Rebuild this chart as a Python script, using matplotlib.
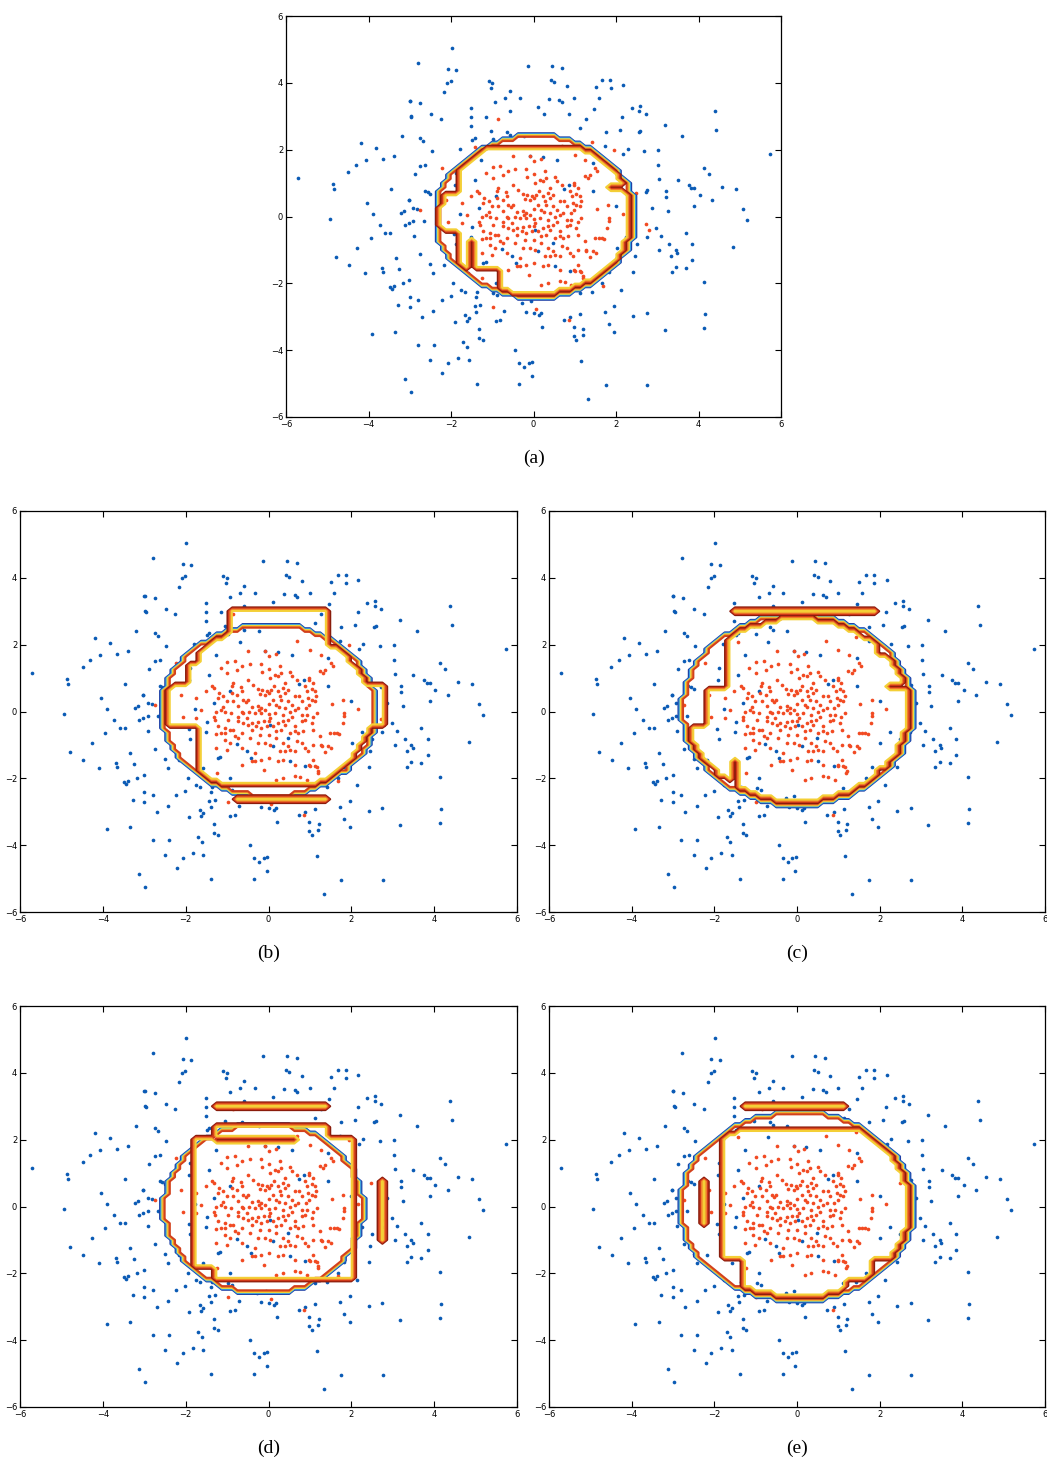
import numpy as np
import matplotlib
matplotlib.use("Agg")
import matplotlib.pyplot as plt

# ---------------- sample points (shared by all panels) ----------------
blue_x = [-5.72, -4.86, -4.83, -4.49, -4.31, -4.19, -4.07, -3.83, -3.66, -3.39, -3.19, -3.0, -2.98, -3.46, -4.04,
          -3.89, -3.22, -3.14, -3.03, -4.94,
          -1.98, -2.79, -2.07, -1.87, -2.09, -2.01, -2.16, -1.09, -1.0, -1.03, -0.58, -0.68, -0.33, -0.93, -2.99,
          -2.75, -2.96, -2.48, -2.25, -1.52, -1.52, -1.14, -0.58, -1.52, -1.04, -0.65, -0.58, -2.74, -2.67, -1.48,
          -1.43, -0.98, -0.70, -0.23, -2.47, -1.79, -2.74, -2.62, -2.88, -1.89, -1.27, -1.43, -1.91, -2.63, -2.56,
          -2.50, -3.02, -2.92, -2.82, -0.92, -1.31, -1.77, -0.08, -0.13,
          0.44, 0.68, 0.42, 0.50, 0.81, 1.67, 1.86, 1.51, 1.87, 2.17, 0.38, 0.63, 0.70, 0.99, 1.58, 0.11, 0.25,
          0.86, 1.46, 1.27, 2.38, 2.57, 2.56, 2.72, 2.15, 1.13, 1.75, 2.09, 2.55, 2.59, 1.73, 2.28, 2.18, 2.69,
          3.03, 0.22, 0.56, 1.44, 3.03, 3.05, 1.44, 2.72, 2.76, 2.0, 2.87, 0.74, 0.86,
          4.39, 3.18, 4.42, 3.59, 5.73, 4.13, 4.26, 3.50, 3.76, 3.82, 3.90, 4.58, 4.92, 3.20, 3.20, 4.03, 4.33,
          3.90, 3.25, 5.09, 5.18,
          -3.72, -3.59, -3.47, -3.12, -3.02, -3.95, -4.27, -4.79, -4.47, -4.09, -3.68, -3.65, -3.34, -3.25, -3.48,
          -3.44, -3.39, -3.17, -3.01, -3.0, -3.28, -3.0, -3.91, -3.35, -3.12, -2.98,
          -2.92, -2.66, -2.90, -2.74, -2.50, -2.43, -2.17, -1.89, -1.93, -1.51, -1.48, -1.16, -1.22, -1.94, -1.66,
          -1.76, -1.36, -1.40, -1.58, -0.92, -0.77, -0.51, -0.43, -2.80, -2.23, -2.01, -1.29, -1.43, -2.70, -2.43,
          -1.91, -1.66, -1.57, -1.62, -1.40, -1.31, -1.31, -1.23, -0.92, -0.81, -0.72, -0.97, -0.88, -0.27, -0.19,
          0.01, -1.70, -1.61, -2.80, -2.41, -2.50, -1.83, -2.07, -1.57, -0.44, -0.35, -0.22, -0.12, -0.03, -0.04,
          -2.21, -1.38, -0.35,
          0.03, 0.11, 0.48, 0.51, 0.89, 1.82, 1.67, 2.02, 2.25, 2.50, 2.46, 2.74, 2.98, 3.05, 1.12, 1.42, -0.07,
          0.13, 0.18, 0.20, 0.73, 0.89, 1.13, 0.98, 1.21, 1.19, 0.98, 1.04, 1.73, 1.96, 2.13, 1.82, 1.96, 2.42,
          2.42, 2.75, 1.16, 1.75, 1.33, 2.76,
          3.10, 3.69, 3.29, 3.84, 3.45, 3.34, 3.49, 3.84, 3.45, 3.35, 3.69, 4.83, 4.14, 4.16, 4.13, 3.18]
blue_y = [1.15, 0.98, 0.83, 1.32, 1.55, 2.19, 1.68, 2.06, 1.73, 1.82, 2.42, 3.47, 3.0, 0.83, 0.39,
          0.08, 0.10, 0.15, 0.50, -0.08,
          5.04, 4.60, 4.42, 4.37, 4.0, 4.04, 3.73, 4.04, 4.0, 3.86, 3.75, 3.55, 3.55, 3.44, 3.46,
          3.40, 2.99, 3.08, 2.93, 3.26, 2.99, 2.99, 3.16, 2.72, 2.57, 2.54, 2.45, 2.34, 2.27, 2.30,
          2.36, 2.31, 2.09, 2.42, 1.95, 2.02, 1.50, 1.55, 1.26, 1.30, 1.70, 1.10, 0.95, 0.77, 0.72,
          0.67, 0.50, 0.25, 0.23, 0.62, 0.26, 0.06, 1.80, 4.51,
          4.51, 4.44, 4.09, 4.02, 3.91, 4.07, 4.09, 3.88, 3.84, 3.95, 3.52, 3.49, 3.44, 3.55, 3.55, 3.28, 3.08,
          3.08, 3.23, 2.93, 3.25, 3.30, 3.16, 3.07, 2.99, 2.66, 2.53, 2.60, 2.53, 2.55, 2.12, 2.03, 1.88, 1.97,
          2.0, 1.77, 1.68, 1.60, 1.55, 1.12, 0.75, 0.74, 0.78, 0.32, 0.26, 0.82, 0.95,
          3.17, 2.75, 2.60, 2.42, 1.86, 1.44, 1.28, 1.08, 0.95, 0.86, 0.86, 0.88, 0.83, 0.75, 0.59, 0.63, 0.50,
          0.32, 0.17, 0.23, -0.10,
          -0.26, -0.50, -0.50, -0.26, -0.19, -0.64, -0.95, -1.20, -1.44, -1.68, -1.55, -1.67, -1.24, -1.57, -2.10,
          -2.16, -2.07, -1.98, -1.89, -2.41, -2.66, -2.70, -3.51, -3.46, -4.87, -5.25,
          -0.12, -0.12, -0.58, -1.13, -1.42, -1.69, -1.45, -0.83, -0.52, -0.60, -0.32, -1.35, -1.40, -1.99, -2.26,
          -2.19, -2.26, -2.42, -1.70, -1.99, -0.98, -1.18, -1.38, -2.51, -2.50, -2.38, -2.64, -2.68, -3.0, -2.84,
          -3.17, -2.94, -3.04, -3.13, -2.86, -3.37, -3.64, -3.69, -3.14, -3.11, -2.84, -2.30, -2.34, -2.60, -2.87,
          -2.90, -3.77, -3.91, -3.84, -3.86, -4.29, -4.24, -4.37, -4.29, -3.99, -4.39, -4.49, -4.37, -4.34, -4.76,
          -4.69, -5.01, -5.01,
          -0.40, -1.03, -0.80, -1.48, -1.62, -1.65, -1.99, -0.95, -0.62, -0.83, -1.17, -0.62, -0.35, -0.99, -2.28,
          -2.25, -2.52, -2.94, -2.88, -3.30, -3.11, -3.01, -2.91, -3.30, -3.37, -3.54, -3.57, -3.69, -2.86, -2.68,
          -2.21, -3.21, -3.46, -1.65, -2.99, -2.90, -4.31, -5.04, -5.46, -5.04,
          -0.57, -0.50, -0.83, -0.83, -0.99, -1.17, -1.10, -1.30, -1.50, -1.66, -1.55, -0.90, -1.95, -2.92, -3.33,
          -3.39]

red_x = [-0.49, -0.08, 0.02, -0.81, -0.99, -0.63, -0.45, -0.18, -0.75, -1.15, -0.99, -0.15, 0.01, 0.04,
         -0.49, -0.85, -0.88, -0.67, -0.37, -0.26, -0.15, -0.03, -0.21, -0.08, 0.01, -1.36, -1.31, -1.52,
         -1.19, -0.65, -0.89, -0.75, -1.09, -1.22, -1.01, -0.61, -0.55, -0.50, -0.85, -0.41, -0.25, -0.17,
         -0.08, -0.23, -0.73, -1.09, -1.14, -1.06, -1.26, -0.65, -0.61, -0.46, -0.33, -0.17, 0.00, -0.91,
         -1.74, -1.62, -1.31, -1.74, -2.07, -2.12, -0.53, -0.73, 0.0, 0.04, -2.23,
         1.42, 1.95, 0.17, 1.0, 1.26, 1.50, 1.55, 1.24, 1.32, 0.27, 0.31, 0.23, 0.15, 0.51, 0.56, 0.98, 1.07,
         1.04, 1.12, 0.88, 0.68, 0.39, 0.35, 0.47, 0.39, 0.27, 0.23, 0.13, 0.07, 0.11, 0.19, 0.31, 0.47, 0.56,
         0.64, 0.74, 0.80, 0.96, 1.04, 1.12, 0.98, 0.90, 0.72, 0.64, 0.51, 0.39, 0.25, 0.15, 0.35, 0.56, 0.80,
         0.92, 1.07, 1.16, 1.53, 1.81,
         -1.30, -0.97, -0.73, -0.61, -0.41, -0.25, -0.12, 0.0, -1.22, -1.06, -0.93, -1.14, -1.06, -1.26, -0.85,
         -0.49, -0.29, -0.17, -0.04, -0.41, -0.65, -0.21, 0.0, -1.06, -0.93, -0.81, -0.73, -0.45, -0.25, -0.08,
         0.04, -1.26, -1.01, -0.65, -0.41, -0.33, -0.17, 0.0, -0.12, -0.63, -0.33,
         0.11, 0.23, 0.35, 0.39, 0.47, 0.64, 0.80, 0.88, 1.04, 0.19, 0.31, 0.51, 0.64, 0.72, 0.84, 1.08, 1.24,
         1.49, 1.65, 0.19, 0.35, 0.47, 0.68, 0.80, 0.88, 0.96, 1.08, 1.28, 1.44, 0.27, 0.39, 0.51, 0.64, 0.23,
         0.35, 0.64, 1.0, 1.12, 0.35, 0.64, 0.76, 0.19, 0.92, 1.20, 1.08,
         1.82, 1.82, 1.79, 1.58, 1.71, 1.51, 1.37, 1.27, 1.16, 1.19, 0.98, 2.16, 1.37, 0.98, 1.15, 0.94,
         -0.85, -2.74, -1.42, 0.05, 0.86, 1.69, 2.80, 2.72, -0.98, -1.24, 0.70, 2.48]
red_y = [1.80, 1.80, 1.67, 1.50, 1.48, 1.37, 1.42, 1.42, 1.23, 1.30, 1.15, 1.18, 1.27, 1.0,
         0.95, 0.85, 0.77, 0.73, 0.80, 0.67, 0.65, 0.60, 0.53, 0.50, 0.55, 0.75, 0.70, 0.60,
         0.55, 0.60, 0.55, 0.50, 0.45, 0.40, 0.30, 0.33, 0.27, 0.35, 0.30, 0.13, 0.15, 0.10,
         0.05, 0.03, 0.15, 0.13, 0.05, 0.0, 0.0, 0.0, -0.05, 0.0, -0.05, -0.05, -0.08, -0.03,
         0.40, 0.05, -0.17, -0.20, -0.17, 0.50, -0.20, -0.17, 0.23, -0.20, 1.45,
         2.23, 1.98, 1.73, 1.83, 1.70, 1.45, 1.37, 1.20, 1.15, 1.35, 1.15, 1.05, 1.10, 1.17, 1.05, 0.95, 0.85,
         0.67, 0.60, 0.75, 0.95, 0.85, 0.70, 0.65, 0.55, 0.45, 0.60, 0.75, 0.65, 0.35, 0.20, 0.35, 0.30, 0.20,
         0.45, 0.45, 0.30, 0.40, 0.35, 0.30, 0.20, 0.10, 0.10, 0.05, 0.0, 0.10, 0.13, -0.05, -0.10, -0.15, -0.10,
         -0.10, -0.15, -0.05, 0.23, 0.33,
         -0.24, -0.24, -0.29, -0.34, -0.34, -0.31, -0.27, -0.29, -0.44, -0.49, -0.54, -0.64, -0.64, -0.67, -0.54,
         -0.41, -0.44, -0.49, -0.44, -0.54, -0.64, -0.69, -0.69, -0.84, -0.94, -0.74, -0.79, -0.79, -0.94, -0.94,
         -0.99, -1.09, -1.14, -1.09, -1.49, -1.49, -1.44, -1.39, -1.74, -1.59, -1.24,
         -0.44, -0.34, -0.29, -0.39, -0.24, -0.44, -0.29, -0.24, -0.34, -0.59, -0.54, -0.64, -0.59, -0.64, -0.59,
         -0.54, -0.74, -0.64, -0.64, -0.79, -0.94, -1.04, -0.89, -0.94, -1.09, -1.19, -0.99, -1.04, -1.04, -1.19,
         -1.17, -1.14, -1.19, -1.49, -1.44, -1.59, -1.64, -1.64, -1.99, -1.94, -1.97, -2.04, -2.04, -1.79, -1.44,
         -0.05, -0.12, -0.35, -0.63, -0.68, -1.08, -1.22, -1.0, -1.65, -1.85, -1.60, 0.06, 1.23, 1.0, 0.45, 0.60,
         2.92, 0.19, 2.08, -2.77, -3.11, -2.08, -0.40, -0.23, -2.72, -1.83, 2.10, 0.69]

# ---------------- decision regions per panel ----------------
# oval region of the smooth classifier: centre x, centre y, half-width, half-height
oval_a = (0.05, 0.0, 2.42, 2.42)
oval_b = (0.01, 0.03, 2.58, 2.58)
oval_c = (0.02, 0.05, 2.8, 2.85)
oval_d = (-0.12, -0.06, 2.4, 2.56)
oval_e = (0.01, 0.0, 2.82, 2.82)

# rule (box) regions, as (x0, x1, y0, y1)
#   clip : boxes trimmed to the oval shrunk by `inset`
#   free : boxes used as they are
#   cut  : boxes removed from the rule region afterwards
inset_a = 0.1
boxes_clip_a = [(-1.38, 1.92, -1.55, 1.97), (1.92, 2.25, -2.2, 1.55), (-0.77, 1.92, -2.2, -1.55),
                (-1.77, -1.38, -1.55, 1.57), (-2.6, -1.77, -0.35, 0.62)]
boxes_free_a = []
boxes_cut_a = [(-1.5, -1.5, -1.55, -0.75), (1.85, 2.3, 0.85, 0.85)]

inset_b = 0.12
boxes_clip_b = [(-1.6, 2.7, -2.08, 2.7), (-2.7, -1.6, -0.4, 0.76), (-1.9, -1.6, 0.76, 1.4)]
boxes_free_b = [(-0.86, 1.32, 2.0, 2.95), (2.2, 2.81, -0.4, 0.76), (-0.76, 1.42, -2.68, -2.68)]
boxes_cut_b = []

inset_c = 0.12
boxes_clip_c = [(-1.63, 1.82, -2.9, 2.9), (-2.07, -1.63, -0.5, 0.64), (-2.9, -1.63, -2.9, -0.5),
                (1.82, 2.9, -1.6, 1.6)]
boxes_free_c = [(-1.46, 1.82, 2.98, 2.98)]
boxes_cut_c = [(2.25, 2.9, 0.8, 0.8), (-1.5, -1.5, -2.9, -1.55)]

inset_d = None
boxes_clip_d = [(-1.29, 1.37, -2.14, 2.38), (-1.78, -1.29, -1.75, 1.99), (-1.29, -0.93, -2.14, -1.75),
                (1.37, 1.97, -2.14, 1.99)]
boxes_free_d = [(-1.29, 1.41, 2.95, 2.95), (2.72, 2.72, -0.95, 0.7)]
boxes_cut_d = [(-1.29, 0.57, 1.96, 1.96)]

inset_e = 0.12
boxes_clip_e = [(-1.75, 2.19, -1.55, 2.23), (-1.27, 1.15, -2.65, -1.55), (1.15, 1.75, -2.14, -1.55),
                (1.75, 2.9, -1.55, -0.55), (2.19, 2.9, -0.55, 1.39)]
boxes_free_e = [(-1.27, 1.15, 2.98, 2.98), (-2.19, -2.19, -0.55, 0.7)]
boxes_cut_e = []

ovals = [oval_a, oval_b, oval_c, oval_d, oval_e]
insets = [inset_a, inset_b, inset_c, inset_d, inset_e]
clip_sets = [boxes_clip_a, boxes_clip_b, boxes_clip_c, boxes_clip_d, boxes_clip_e]
free_sets = [boxes_free_a, boxes_free_b, boxes_free_c, boxes_free_d, boxes_free_e]
cut_sets = [boxes_cut_a, boxes_cut_b, boxes_cut_c, boxes_cut_d, boxes_cut_e]
captions = ["(a)", "(b)", "(c)", "(d)", "(e)"]

# axes placement in figure pixels: left, right, top, bottom
W, H = 1047, 1461
ax_px = [(286, 781, 16, 417), (20, 517, 511, 912), (549, 1045, 511, 912),
         (20, 517, 1006, 1407), (549, 1045, 1006, 1407)]

# evaluation grid for the region maps
step = 0.125
gx = np.arange(-6, 6 + step / 2, step)
GX, GY = np.meshgrid(gx, gx)
tol = 0.49 * step


def box_mask(rects):
    m = np.zeros(GX.shape, dtype=bool)
    for x0, x1, y0, y1 in rects:
        m |= (GX >= x0 - tol) & (GX <= x1 + tol) & (GY >= y0 - tol) & (GY <= y1 + tol)
    return m


def oval_mask(cx, cy, rx, ry, shrink=0.0):
    return ((GX - cx) / (rx - shrink)) ** 2 + ((GY - cy) / (ry - shrink)) ** 2 <= 1.0


circle_levels = [0.05, 0.275, 0.5, 0.725, 0.95]
circle_colors = ["#1d3fa6", "#379fe0", "#f0df3c", "#ef8a2a", "#d2401c"]
box_levels = [0.08, 0.36, 0.64, 0.92]
box_colors = ["#8a1c0b", "#d0361a", "#f0802a", "#f4cf36"]

BLUE = "#0b5bb5"
RED = "#f14a22"

fig = plt.figure(figsize=(W / 100, H / 100), dpi=100)
for i in range(5):
    l, r, t, b = ax_px[i]
    ax = fig.add_axes([l / W, 1 - b / H, (r - l) / W, (b - t) / H])
    cx, cy, rx, ry = ovals[i]
    zc = oval_mask(cx, cy, rx, ry).astype(float)
    mb = box_mask(clip_sets[i])
    if insets[i] is not None:
        mb &= oval_mask(cx, cy, rx, ry, insets[i])
    mb |= box_mask(free_sets[i])
    mb &= ~box_mask(cut_sets[i])
    zb = mb.astype(float)

    ax.scatter(blue_x, blue_y, s=7, c=BLUE, linewidths=0, zorder=2)
    ax.scatter(red_x, red_y, s=7, c=RED, linewidths=0, zorder=2)
    ax.contour(GX, GY, zc, levels=circle_levels, colors=circle_colors, linewidths=1.4, zorder=3)
    ax.contour(GX, GY, zb, levels=box_levels, colors=box_colors, linewidths=1.5, zorder=3)
    ax.set_xlim(-6, 6)
    ax.set_ylim(-6, 6)
    ax.set_xticks(range(-6, 7, 2))
    ax.set_yticks(range(-6, 7, 2))
    ax.tick_params(direction="in", top=True, right=True, length=4, width=0.8,
                   labelsize=6, pad=2)
    for sp in ax.spines.values():
        sp.set_linewidth(0.9)
    xc = (l + r) / 2 / W
    fig.text(xc, 1 - (b + 41) / H, captions[i], ha="center", va="center",
             fontsize=14, family="Liberation Serif")

fig.savefig("out.png", dpi=100)
